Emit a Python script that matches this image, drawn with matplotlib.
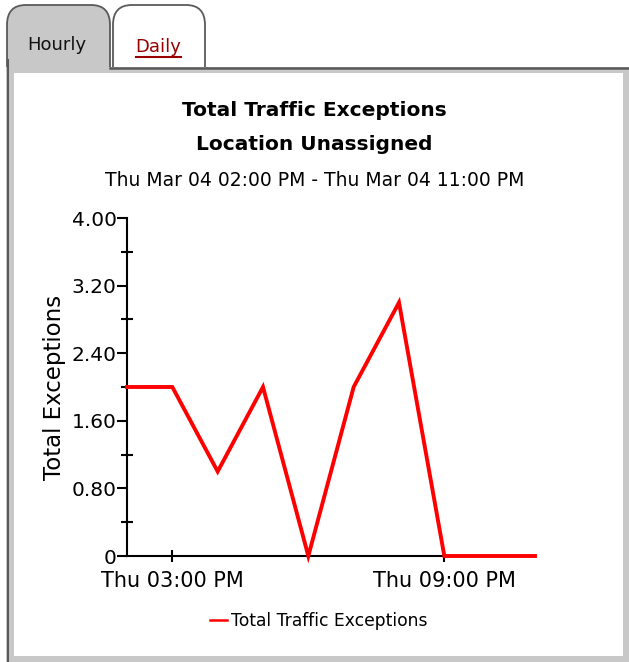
import matplotlib
matplotlib.use('Agg')
import matplotlib.pyplot as plt
from matplotlib.patches import FancyBboxPatch, Rectangle
from matplotlib.lines import Line2D

W, H = 629, 662

# data (hourly, Thu Mar 04)
hours = [14, 15, 16, 17, 18, 19, 20, 21, 22, 23]
exceptions = [2, 2, 1, 2, 0, 2, 3, 0, 0, 0]
tick_hours = [15, 21]
tick_labels = ['Thu 03:00 PM', 'Thu 09:00 PM']
y_ticks = [0, 0.8, 1.6, 2.4, 3.2, 4.0]
y_tick_labels = ['0', '0.80', '1.60', '2.40', '3.20', '4.00']
y_minor = [0.4, 1.2, 2.0, 2.8, 3.6]

TAB_GRAY = '#c8c8c8'
EDGE = '#5a5a5a'


def fx(px):
    return px / W


def fy(py):
    return 1 - py / H


plt.rcParams['font.family'] = ['DejaVu Sans']

fig = plt.figure(figsize=(W / 100, H / 100), dpi=100)

# tabs and panel frame
hourly = FancyBboxPatch((fx(7), fy(100)), fx(110) - fx(7), fy(5) - fy(100),
                        boxstyle='round,pad=0,rounding_size=0.03', transform=fig.transFigure,
                        facecolor=TAB_GRAY, edgecolor=EDGE, linewidth=1.3, zorder=-10)
daily = FancyBboxPatch((fx(113), fy(100)), fx(205) - fx(113), fy(5) - fy(100),
                       boxstyle='round,pad=0,rounding_size=0.03', transform=fig.transFigure,
                       facecolor='white', edgecolor=EDGE, linewidth=1.3, zorder=-10)
fig.patches.extend([hourly, daily])
panel = Rectangle((fx(6), 0), 1 - fx(6), fy(67), transform=fig.transFigure,
                  facecolor=TAB_GRAY, edgecolor='none', zorder=-9)
inner = Rectangle((fx(14), fy(656)), fx(623) - fx(14), fy(73) - fy(656),
                  transform=fig.transFigure, facecolor='white', edgecolor='none', zorder=-8)
fig.patches.extend([panel, inner])
fig.lines.append(Line2D([fx(110), 1], [fy(67.5), fy(67.5)], transform=fig.transFigure,
                        color=EDGE, linewidth=1.8, zorder=-7))
fig.lines.append(Line2D([fx(7.5), fx(7.5)], [0, fy(60)], transform=fig.transFigure,
                        color=EDGE, linewidth=1.5, zorder=-7))

fig.text(fx(57), fy(45), 'Hourly', ha='center', va='center', fontsize=13, color='#111111')
fig.text(fx(158), fy(47), 'Daily', ha='center', va='center', fontsize=13, color='#990000')
fig.lines.append(Line2D([fx(136), fx(181)], [fy(57), fy(57)], transform=fig.transFigure,
                        color='#990000', linewidth=1.5))

# titles
fig.text(0.5, fy(110), 'Total Traffic Exceptions', ha='center', va='center',
         fontsize=14.5, fontweight='bold')
fig.text(0.5, fy(145), 'Location Unassigned', ha='center', va='center',
         fontsize=14.5, fontweight='bold')
fig.text(0.5, fy(181), 'Thu Mar 04 02:00 PM - Thu Mar 04 11:00 PM', ha='center', va='center',
         fontsize=13.5)

ax = fig.add_axes([fx(127), fy(556), fx(535) - fx(127), fy(218) - fy(556)])
ax.patch.set_visible(False)
ax.plot(hours, exceptions, color='#ff0000', linewidth=2.8, label='Total Traffic Exceptions',
        solid_joinstyle='miter', clip_on=False, zorder=3)
ax.set_xlim(hours[0], hours[-1])
ax.set_ylim(0, 4.0)
ax.set_xticks(tick_hours)
ax.set_xticklabels(tick_labels, fontsize=15)
ax.set_yticks(y_ticks)
ax.set_yticklabels(y_tick_labels, fontsize=14.5)
ax.set_yticks(y_minor, minor=True)
ax.tick_params(axis='y', which='major', direction='out', length=7, width=1.5, pad=0.5)
ax.tick_params(axis='y', which='minor', direction='inout', length=9, width=1.5)
ax.tick_params(axis='x', which='major', direction='inout', length=9, width=1.5, pad=6)
for side in ['top', 'right']:
    ax.spines[side].set_visible(False)
for side in ['left', 'bottom']:
    ax.spines[side].set_linewidth(1.5)
ax.set_ylabel('Total Exceptions', fontsize=16.5, labelpad=4)

ax.legend(loc='center', bbox_to_anchor=(0.47, (fy(621) - fy(556)) / (fy(218) - fy(556))),
          bbox_transform=ax.transAxes, frameon=False, fontsize=12.3, handlelength=1.0,
          handletextpad=0.25)
for line in ax.get_legend().get_lines():
    line.set_linewidth(1.8)

fig.savefig('out.png', dpi=100)
